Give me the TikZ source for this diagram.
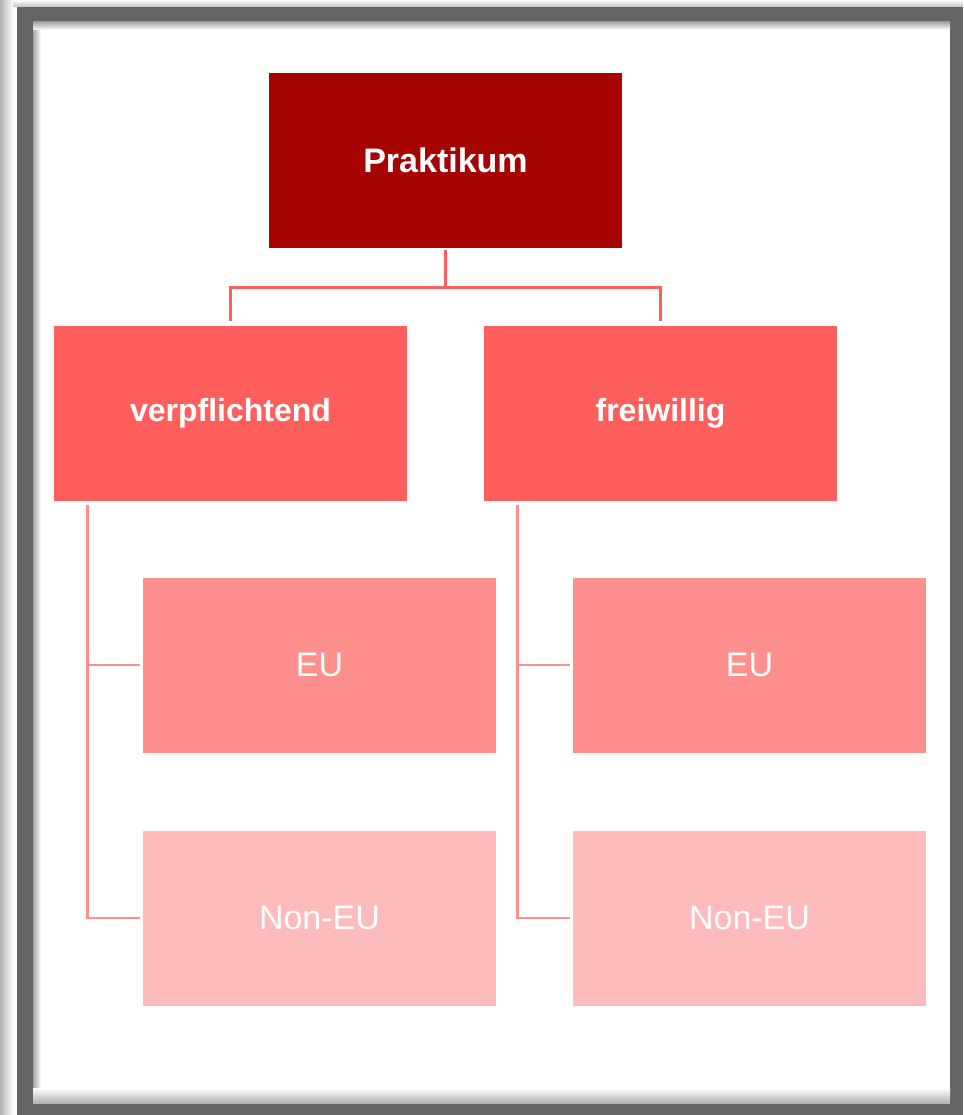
\documentclass[tikz,border=0pt]{standalone}
\usepackage{fontspec}
\setmainfont{Liberation Sans}
\usetikzlibrary{calc}

\definecolor{framegray}{HTML}{646464}
\definecolor{darkred}{HTML}{A50402}
\definecolor{midred}{HTML}{FF5F5C}
\definecolor{lightred}{HTML}{FF8F8D}
\definecolor{palered}{HTML}{FDBBBB}

\tikzset{
  box/.style={minimum width=353pt, minimum height=175pt, inner sep=0pt,
    text=white, font=\fontsize{34}{40}\selectfont},
  topbox/.style={box, fill=darkred, font=\fontsize{34}{40}\selectfont\bfseries},
  midbox/.style={box, fill=midred, font=\fontsize{32}{38}\selectfont\bfseries},
  eubox/.style={box, fill=lightred},
  noneubox/.style={box, fill=palered},
  topline/.style={draw=midred, line width=2.8pt},
  subline/.style={draw=lightred, line width=2.8pt}
}

\begin{document}
\begin{tikzpicture}[x=1pt,y=-1pt]
            \useasboundingbox (0,0) rectangle (963,1115);
            \shade[left color=gray!60, right color=white] (0,0) rectangle (13,1115);
            \shade[top color=white, bottom color=gray!50] (13,0) rectangle (963,7);
            \fill[framegray] (17,7) rectangle (963,1115);
            \fill[white] (33,22) rectangle (950,1103);
            \shade[left color=gray!70, right color=white] (33,22) rectangle (41,1103);
            \shade[top color=gray!70, bottom color=white] (33,22) rectangle (950,30);
            \shade[top color=white, bottom color=gray!60] (33,1088) rectangle (950,1103);
            \node[topbox] (prak) at (445.5,160.5) {Praktikum};
            \node[midbox] (verp) at (230.5,413) {verpflichtend};
            \node[midbox] (frei) at (660.5,413) {freiwillig};
            \node[eubox] (eul) at (319.5,665) {EU};
            \node[noneubox] (nonl) at (319.5,918) {Non-EU};
            \node[eubox] (eur) at (749.5,665) {EU};
            \node[noneubox] (nonr) at (749.5,918) {Non-EU};
            \draw[topline] ([yshift=-2pt]prak.south) -- ++(0,37) -| ([yshift=4pt]verp.north);
            \draw[topline] ([yshift=-2pt]prak.south) -- ++(0,37) -| ([yshift=4pt]frei.north);
            \draw[subline] ([shift={(34,4)}]verp.south west) |- ([xshift=-3pt]eul.west);
            \draw[subline] ([shift={(34,4)}]verp.south west) |- ([xshift=-3pt]nonl.west);
            \draw[subline] ([shift={(34,4)}]frei.south west) |- ([xshift=-3pt]eur.west);
            \draw[subline] ([shift={(34,4)}]frei.south west) |- ([xshift=-3pt]nonr.west);
        \end{tikzpicture}
\end{document}
